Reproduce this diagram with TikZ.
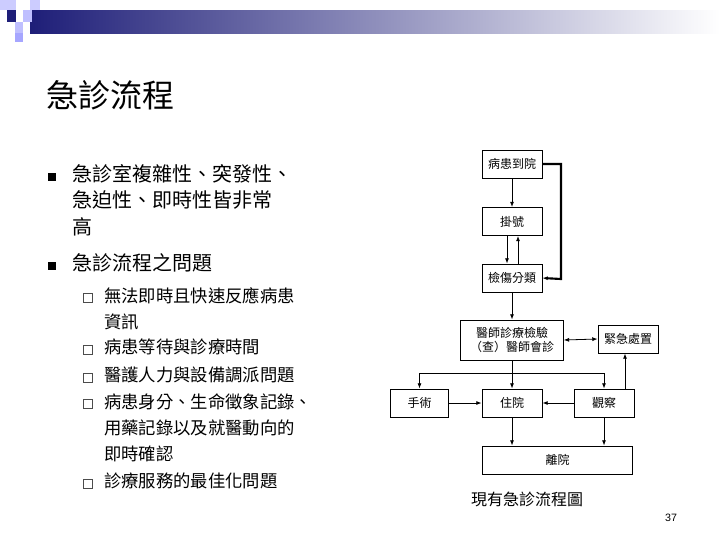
\documentclass[tikz,border=0pt]{standalone}
\usepackage{fontspec}
\setmainfont{Liberation Sans}
\newfontfamily\cjk{Noto Sans CJK TC}
\usetikzlibrary{arrows.meta}
\definecolor{navy}{RGB}{30,30,120}
\begin{document}
\begin{tikzpicture}[x=0.75pt,y=-0.75pt,
  box/.style={draw,line width=0.6pt,minimum height=21pt,font=\cjk\fontsize{9}{10}\selectfont,inner sep=1pt},
  arr/.style={-{Latex[length=4pt,width=3pt]},line width=0.6pt},
  ttl/.style={anchor=west,font=\cjk\fontsize{24}{28}\selectfont},
  lvl1/.style={anchor=north west,font=\cjk\fontsize{15}{20}\selectfont,align=left,inner sep=0pt},
  lvl2/.style={anchor=north west,font=\cjk\fontsize{13}{19.5}\selectfont,align=left,inner sep=0pt},
  bul1/.style={fill=black,minimum size=6pt,inner sep=0pt},
  bul2/.style={draw=black!70,line width=0.4pt,minimum size=7pt,inner sep=0pt}]
\useasboundingbox (0,0) rectangle (720,540);
% header decoration
\shade[left color=navy,right color=white] (30,10) rectangle (720,33);
\fill[blue!20!white] (0,0) rectangle (16,10);
\fill[blue!20!white] (30,0) rectangle (40,10);
\fill[navy] (7,10) rectangle (16,22);
\fill[blue!25!white] (23,10) rectangle (32,22);
\fill[blue!25!white] (15,22) rectangle (23,33);
\fill[blue!35!white] (15,33) rectangle (23,42);
% title
\node[ttl] (title) at (42,95) {急診流程};
% bullets
\node[bul1] (b1) at (52,177) {};
\node[lvl1] (t1) at (72,164) {急診室複雜性、突發性、\\急迫性、即時性皆非常\\高};
\node[bul1] (b2) at (52,266) {};
\node[lvl1] (t2) at (72,253) {急診流程之問題};
\node[bul2] (s1) at (88,298) {};
\node[lvl2] (u1) at (104,287) {無法即時且快速反應病患\\資訊};
\node[bul2] (s2) at (88,350) {};
\node[lvl2] (u2) at (104,339) {病患等待與診療時間};
\node[bul2] (s3) at (88,378) {};
\node[lvl2] (u3) at (104,367) {醫護人力與設備調派問題};
\node[bul2] (s4) at (88,404) {};
\node[lvl2] (u4) at (104,393) {病患身分、生命徵象記錄、\\用藥記錄以及就醫動向的\\即時確認};
\node[bul2] (s5) at (88,484) {};
\node[lvl2] (u5) at (104,473) {診療服務的最佳化問題};
% flowchart
\node[box,minimum width=45pt] (arrive) at (512,164) {病患到院};
\node[box,minimum width=45pt] (reg) at (512,221.5) {掛號};
\node[box,minimum width=45pt] (tri) at (512,278) {檢傷分類};
\node[box,minimum width=77pt,minimum height=30pt,align=center] (doc) at (512,340) {醫師診療檢驗\\（查）醫師會診};
\node[box,minimum width=45pt] (emg) at (628,339) {緊急處置};
\node[box,minimum width=44pt] (surg) at (419.5,403) {手術};
\node[box,minimum width=45pt] (hosp) at (512,403) {住院};
\node[box,minimum width=45pt] (obs) at (604,403) {觀察};
\node[box,minimum width=113pt] (leave) at (557.5,460) {離院};
\node[font=\cjk\fontsize{12}{14}\selectfont] (cap) at (527,499) {現有急診流程圖};
\node[font=\fontsize{8}{10}\selectfont] (pg) at (671,518) {37};
\draw[arr] (arrive) -- (reg);
\draw[arr] ([xshift=-3.75pt]reg.south) -- ([xshift=-3.75pt]tri.north);
\draw[arr] ([xshift=4.5pt]tri.north) -- ([xshift=4.5pt]reg.south);
\draw[arr,line width=1.6pt] (arrive.east) -| (561,279) -- (tri.east);
\draw[arr] (tri) -- (doc);
\draw[{Latex[length=4pt,width=3pt]}-{Latex[length=4pt,width=3pt]},line width=0.6pt] (doc.east) -- (emg.west);
\coordinate (split) at (512,373);
\draw[line width=0.6pt] (doc.south) -- (split);
\draw[arr] (split) -- (hosp);
\draw[arr] (split) -| (surg.north);
\draw[arr] (split) -| (obs.north);
\coordinate (obsup) at (625,389);
\draw[arr] (obsup) -- (obsup |- emg.south);
\draw[arr] (surg) -- (hosp);
\draw[arr] (obs) -- (hosp);
\draw[arr] (hosp.south) -- (hosp.south |- leave.north);
\draw[arr] (obs.south) -- (obs.south |- leave.north);
\end{tikzpicture}
\end{document}
